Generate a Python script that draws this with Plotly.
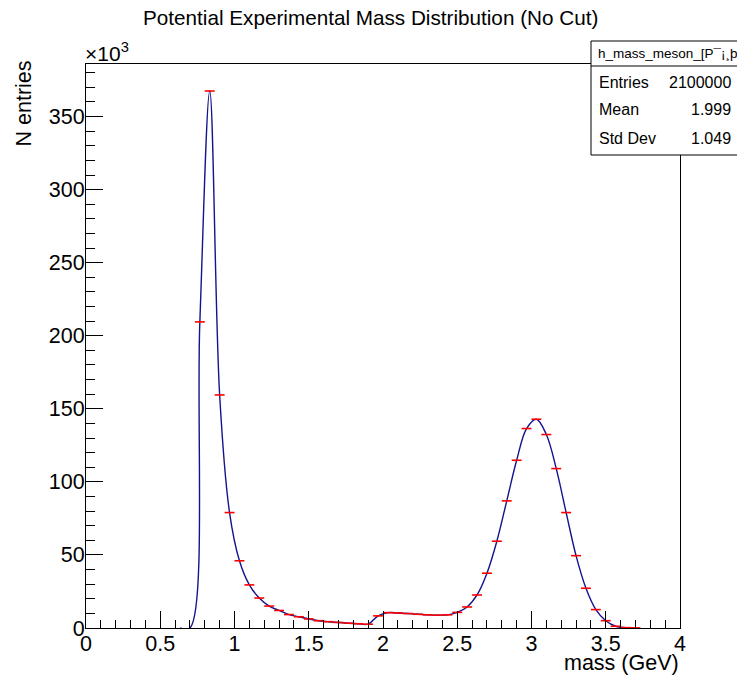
import plotly.graph_objects as go

# ---------------- data ----------------
title_text = "Potential Experimental Mass Distribution (No Cut)"
x_title = "mass (GeV)"
y_title = "N entries"
hist_name = "h_mass_meson_[P¯¡¸þ•"

x_low, x_high, n_bins = 0.0, 4.0, 60      # histogram binning
first_bin = 9                              # first bin index listed below (centre 0.633)

# bin contents in units of 10^3 entries, bins 9 .. 55
counts_k = [
    0.0, 0.0, 209.5, 367.5, 159.5, 79.0, 46.0, 29.5, 20.5, 15.0,
    12.0, 9.2, 7.7, 6.2, 5.0, 4.3, 3.8, 3.3, 2.9, 2.6,
    8.3, 10.5, 10.3, 9.9, 9.4, 9.0, 8.8, 9.0, 10.7, 14.4,
    22.6, 37.5, 59.4, 87.0, 114.8, 136.5, 142.9, 132.4, 109.1, 79.0,
    49.5, 27.2, 12.6, 5.0, 1.2, 0.25, 0.08,
]

stats_labels = ["Entries", "Mean", "Std Dev"]
stats_values = ["2100000", "1.999", "1.049"]

x_tick_step, x_minor_step = 0.5, 0.1
y_tick_step, y_minor_step = 50, 10
y_max = 386

# ---------------- derived ----------------
bin_w = (x_high - x_low) / n_bins
centers = [x_low + (first_bin + i + 0.5) * bin_w for i in range(len(counts_k))]
mark_x = [c for c, v in zip(centers, counts_k) if v > 0]
mark_y = [v for v in counts_k if v > 0]
mark_e = [bin_w / 2] * len(mark_x)

W, H = 737, 679
ML, MR, MT, MB = 86, 57, 64, 51
PW, PH = W - ML - MR, H - MT - MB


def px(xp):
    return (xp - ML) / PW


def py(yp):
    return (H - MB - yp) / PH


FONT = "Liberation Sans, Arial, Helvetica, sans-serif"

fig = go.Figure()
fig.add_trace(go.Scatter(
    x=centers, y=counts_k, mode="lines",
    line=dict(color="#14148c", width=1.4, shape="spline", smoothing=1.0),
    hoverinfo="skip", showlegend=False,
))
fig.add_trace(go.Scatter(
    x=mark_x, y=mark_y, mode="markers",
    marker=dict(size=1, color="#ff0000"),
    error_x=dict(type="data", array=mark_e, symmetric=True, width=0,
                 color="#ff0000", thickness=1.6),
    showlegend=False,
))

axis_common = dict(
    showline=True, linecolor="black", linewidth=1, mirror=True,
    ticks="inside", tickcolor="black", tickwidth=1, ticklen=17,
    showgrid=False, zeroline=False,
    tickfont=dict(family=FONT, size=21.5, color="black"),
)

fig.update_xaxes(range=[x_low, x_high], tick0=0, dtick=x_tick_step,
                 ticklabelstandoff=-4,
                 minor=dict(dtick=x_minor_step, tick0=0, ticks="inside", ticklen=8,
                            tickcolor="black", tickwidth=1, showgrid=False),
                 **axis_common)
fig.update_yaxes(range=[0, y_max], tick0=0, dtick=y_tick_step,
                 ticklabelstandoff=-4,
                 minor=dict(dtick=y_minor_step, tick0=0, ticks="inside", ticklen=9,
                            tickcolor="black", tickwidth=1, showgrid=False),
                 **axis_common)

ann = []
ann.append(dict(text=title_text, x=px(370), y=py(17), xref="paper", yref="paper",
                xanchor="center", yanchor="middle", showarrow=False,
                font=dict(family=FONT, size=20.7, color="black")))
ann.append(dict(text="×10<sup>3</sup>", x=px(83), y=py(52), xref="paper", yref="paper",
                xanchor="left", yanchor="middle", showarrow=False,
                font=dict(family=FONT, size=21, color="black")))
ann.append(dict(text=y_title, x=px(23), y=py(103.5), xref="paper", yref="paper",
                xanchor="center", yanchor="middle", textangle=-90, showarrow=False,
                font=dict(family=FONT, size=21.5, color="black")))
ann.append(dict(text=x_title, x=px(681), y=py(663), xref="paper", yref="paper",
                xanchor="right", yanchor="middle", showarrow=False,
                font=dict(family=FONT, size=21.5, color="black")))

# stats box
box_l, box_r, box_t, box_b, sep_y = 591, 740, 41, 155, 66
shapes = [
    dict(type="rect", xref="paper", yref="paper", x0=px(box_l), x1=px(box_r),
         y0=py(box_b), y1=py(box_t), line=dict(color="black", width=1),
         fillcolor="white", layer="above"),
    dict(type="line", xref="paper", yref="paper", x0=px(box_l), x1=px(box_r),
         y0=py(sep_y), y1=py(sep_y), line=dict(color="black", width=1), layer="above"),
]
ann.append(dict(text=hist_name, x=px(596), y=py(53), xref="paper", yref="paper",
                xanchor="left", yanchor="middle", showarrow=False,
                font=dict(family=FONT, size=13.5, color="black")))
row_y = [83, 110, 138]
for lab, val, yy in zip(stats_labels, stats_values, row_y):
    ann.append(dict(text=lab, x=px(597), y=py(yy), xref="paper", yref="paper",
                    xanchor="left", yanchor="middle", showarrow=False,
                    font=dict(family=FONT, size=16, color="black")))
    ann.append(dict(text=val, x=px(733), y=py(yy), xref="paper", yref="paper",
                    xanchor="right", yanchor="middle", showarrow=False,
                    font=dict(family=FONT, size=16, color="black")))

fig.update_layout(
    width=W, height=H,
    margin=dict(l=ML, r=MR, t=MT, b=MB, pad=0),
    paper_bgcolor="white", plot_bgcolor="white",
    annotations=ann, shapes=shapes, showlegend=False,
    font=dict(family=FONT, color="black"),
)

fig.write_html("out.html", config={"displayModeBar": False},
               post_script="document.body.style.margin='0';document.body.style.overflow='hidden';")
